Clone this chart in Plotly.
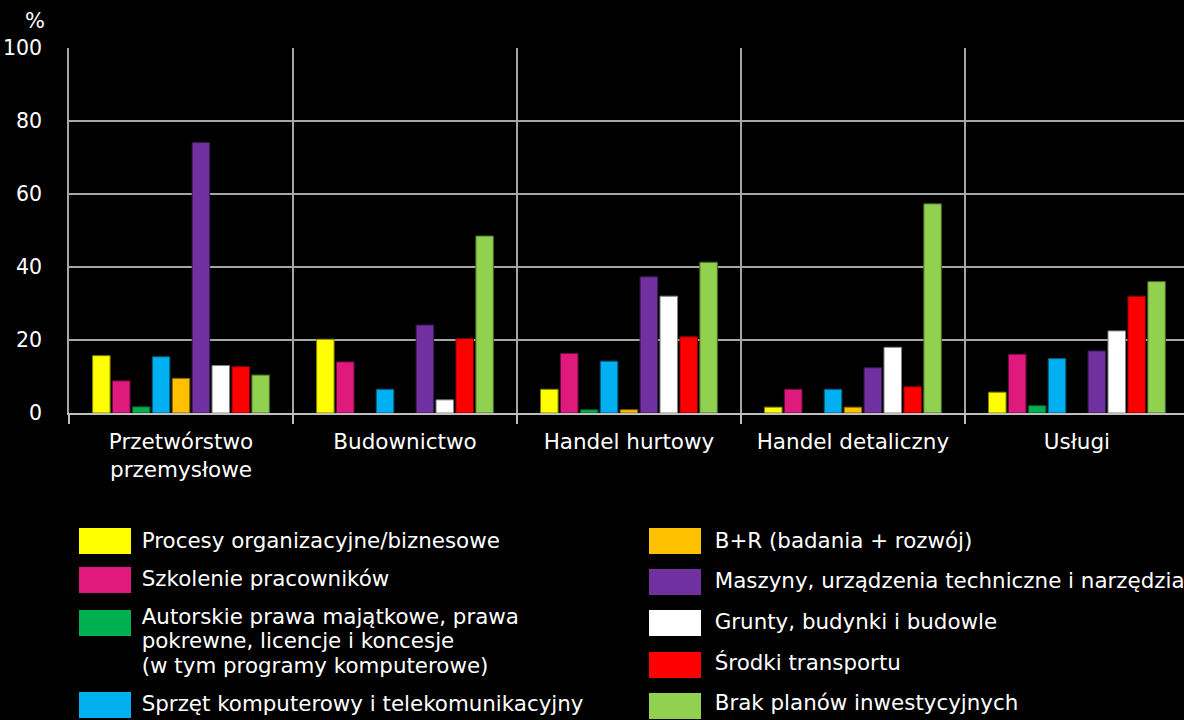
import plotly.graph_objects as go

categories = ["Przetwórstwo<br>przemysłowe", "Budownictwo", "Handel hurtowy",
              "Handel detaliczny", "Usługi"]

series_names = [
    "Procesy organizacyjne/biznesowe",
    "Szkolenie pracowników",
    "Autorskie prawa majątkowe, prawa<br>pokrewne, licencje i koncesje<br>(w tym programy komputerowe)",
    "Sprzęt komputerowy i telekomunikacyjny",
    "B+R (badania + rozwój)",
    "Maszyny, urządzenia techniczne i narzędzia",
    "Grunty, budynki i budowle",
    "Środki transportu",
    "Brak planów inwestycyjnych",
]

procesy = [15.7, 20.2, 6.5, 1.6, 5.7]
szkolenie = [8.8, 14.0, 16.3, 6.5, 16.1]
autorskie = [1.7, None, 0.9, None, 2.0]
sprzet = [15.4, 6.5, 14.2, 6.5, 14.9]
br = [9.5, None, 0.9, 1.6, None]
maszyny = [74.1, 24.1, 37.3, 12.4, 17.0]
grunty = [13.0, 3.6, 32.0, 18.0, 22.5]
transport = [12.7, 20.4, 20.9, 7.2, 32.0]
brak = [10.4, 48.5, 41.3, 57.3, 36.0]

series_values = [procesy, szkolenie, autorskie, sprzet, br, maszyny, grunty, transport, brak]

colors = ["#FFFF00", "#E0197E", "#00B050", "#00B0F0", "#FFC000",
          "#7030A0", "#FFFFFF", "#FF0000", "#92D050"]
edge_colors = ["#7F7F00", "#700C3F", "#005828", "#005878", "#7F6000",
               "#381850", "#7F7F7F", "#7F0000", "#496828"]

FONT = "DejaVu Sans"
LEGEND_GLYPH = 21.4

# layout constants (pixels)
W, H = 1184, 720
ML, MT, MB = 69, 48, 307
PLOT_W, PLOT_H = W - ML, H - MT - MB
SWATCH_W, SWATCH_H = 52, 26
SWATCH_LEFT = [79] * 4 + [649] * 5
SWATCH_TOP = [528, 567, 610, 692, 528, 569, 610, 652, 693]


def legend_label(name):
    parts = name.split("<br>")
    return "<br>".join(f'<span style="font-size:{LEGEND_GLYPH}px">{p}</span>' for p in parts)


def px_to_paper_x(px):
    return (px - ML) / PLOT_W


def px_to_paper_y(py):
    return (H - MB - py) / PLOT_H


fig = go.Figure()
for i, (name, vals) in enumerate(zip(series_names, series_values)):
    lg = "legend" if i < 4 else "legend2"
    fig.add_trace(go.Bar(
        x=categories, y=vals, name=name.replace("<br>", " "),
        marker=dict(color=colors[i], line=dict(color=edge_colors[i], width=1)),
        legendgroup=f"g{i}", showlegend=False,
        hovertemplate=f"{name.replace('<br>', ' ')}<br>%{{x}}: %{{y}}%<extra></extra>",
    ))
    # legend entry (shares the legend group with the bars)
    fig.add_trace(go.Scatter(
        x=[None], y=[None], mode="markers", name=legend_label(name),
        marker=dict(symbol="square", size=12, color=colors[i], line=dict(width=0)),
        legend=lg, legendgroup=f"g{i}", showlegend=True, hoverinfo="skip",
    ))

shapes = []
for i in range(len(series_names)):
    shapes.append(dict(
        type="rect", xref="paper", yref="paper", layer="below",
        x0=px_to_paper_x(SWATCH_LEFT[i]), x1=px_to_paper_x(SWATCH_LEFT[i] + SWATCH_W),
        y0=px_to_paper_y(SWATCH_TOP[i] + SWATCH_H), y1=px_to_paper_y(SWATCH_TOP[i]),
        fillcolor=colors[i], line=dict(width=0),
    ))

legend_common = dict(
    xref="container", yref="container",
    xanchor="left", yanchor="top",
    bgcolor="rgba(0,0,0,0)", font=dict(size=19, color="#FFFFFF", family=FONT),
    valign="top", itemwidth=50,
)

fig.update_layout(
    width=W, height=H,
    paper_bgcolor="#000000", plot_bgcolor="#000000",
    margin=dict(l=ML, r=0, t=MT, b=MB, autoexpand=False),
    barmode="group", bargap=0.2, bargroupgap=0.12,
    font=dict(family=FONT, color="#FFFFFF", size=20),
    xaxis=dict(
        type="category", tickson="boundaries",
        range=[-0.5, 4.478], tickangle=0, automargin=False,
        showgrid=True, gridcolor="#A6A6A6", gridwidth=1.5,
        showline=True, linecolor="#BFBFBF", linewidth=2,
        ticks="outside", ticklen=9, tickcolor="#BFBFBF", tickwidth=2,
        ticklabelstandoff=8,
        tickfont=dict(size=21.5, color="#FFFFFF", family=FONT),
    ),
    yaxis=dict(
        range=[0, 100], tickvals=[0, 20, 40, 60, 80, 100], automargin=False,
        showgrid=True, gridcolor="#A6A6A6", gridwidth=1.5,
        showline=True, linecolor="#A6A6A6", linewidth=1.5,
        zeroline=False, ticks="", ticklabelstandoff=21,
        tickfont=dict(size=20.5, color="#FFFFFF", family=FONT),
    ),
    legend=dict(x=0.069, y=0.276, tracegroupgap=10.3, **legend_common),
    legend2=dict(x=0.553, y=0.276, tracegroupgap=13, **legend_common),
    shapes=shapes,
    annotations=[dict(text="%", xref="paper", yref="paper", x=-0.02, y=1.0,
                      xanchor="right", yanchor="bottom", showarrow=False,
                      font=dict(size=21, color="#FFFFFF", family=FONT), yshift=13)],
)

fig.write_html("out.html",
               config={"displayModeBar": False},
               post_script="document.body.style.margin='0px';document.body.style.background='#000';")
